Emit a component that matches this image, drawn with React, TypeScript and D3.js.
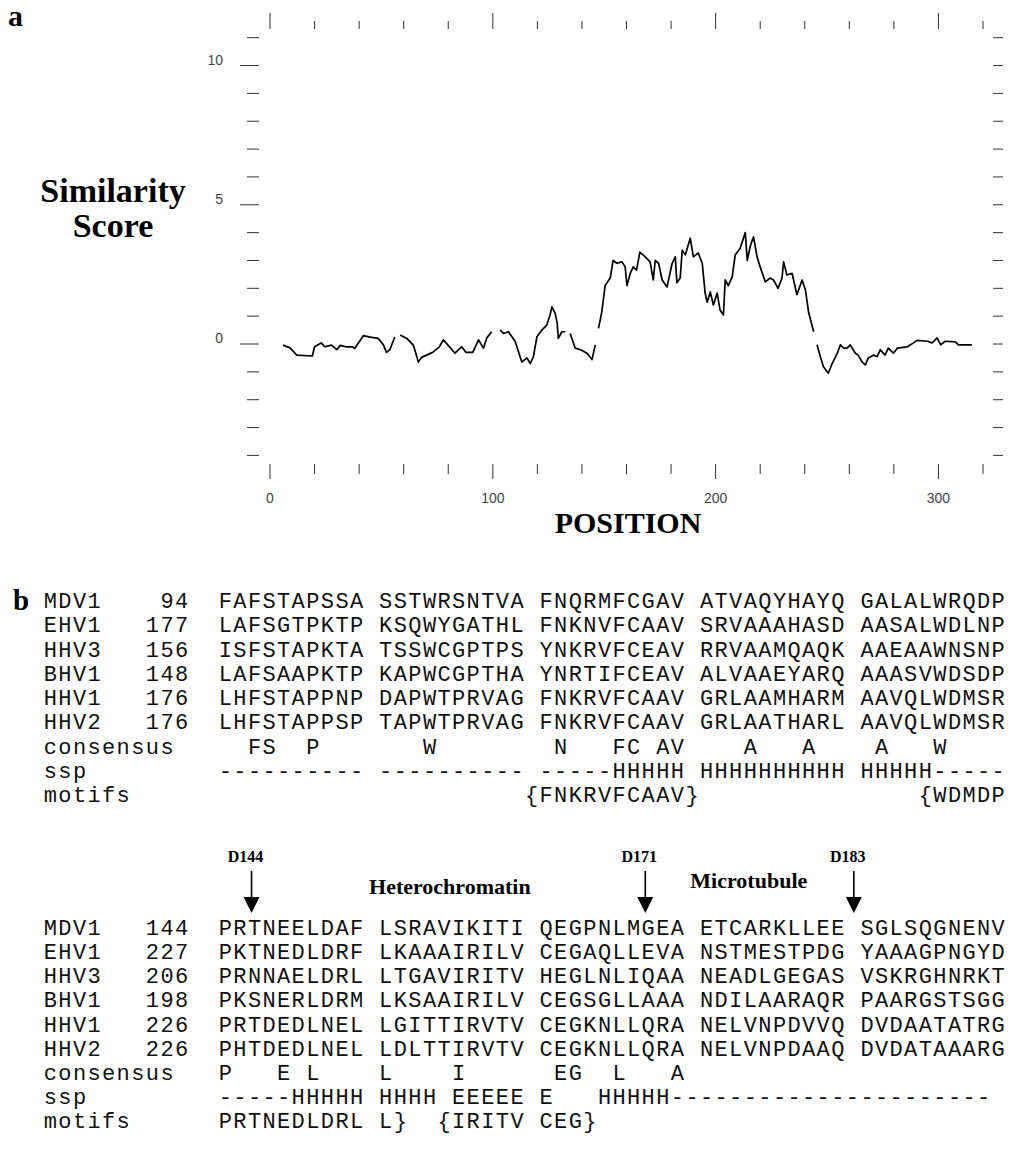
import React from "react";
import * as d3 from "d3";

// similarity trace (null = break in the printed trace)
const positions = [
  5.9, 9, 12, 19, 20, 23, 24.6, 27.6, 30, 31.5, 34, 37, 38, 41.9, 45, 48.6, 50.9, 52.3, 53.8, 56,
  57, 58.4, 61.4, 64.4, 66.6, 68, 73, 76, 77.8, 80, 83, 86, 88, 91, 93.6, 95.8, 97.3, 99.5,
  101, 103.3, 104.8, 107, 108.6, 110, 113, 115.3, 116.8, 118.2, 119.8, 122, 124.2, 125.7, 126.5,
  128, 128.9, 129.4, 131, 132.5, 133.5, 134.7, 137, 139.2, 142.3, 144.5, 146, 146.7, 147.4, 148.2,
  149, 150.4, 152.7, 154, 155.7, 158, 159.4, 160.2, 161.7, 163, 164.5, 166, 168.4, 170.6, 172,
  172.9, 174.4, 176, 178.2, 180.5, 181.9, 182.6, 184.1, 185, 186.4, 188.6, 190, 192.2, 194,
  195.3, 196.2, 197.6, 199, 200.7, 202, 203.5, 204.3, 205.7, 207.4, 208.8, 211, 213.3, 214.2,
  215.5, 217, 218.6, 220, 222.3, 224.5, 226, 228, 229.8, 230.5, 232, 234.3, 236.5, 238.8, 240.3,
  241.7, 244, 244.7, 245.5, 247, 248.4, 250.6, 252.3, 254.6, 256, 257.5, 259, 260.4, 262.7, 264,
  265.8, 267.2, 268.5, 270.8, 272.5, 273.9, 276, 277.5, 279.8, 281.5, 286, 288.8, 290.4, 295,
  297.2, 299.4, 301, 303, 307.6, 309, 315,
];
const scores: (number | null)[] = [
  -0.04, -0.14, -0.4, -0.43, -0.1, 0.04, -0.1, -0.04, -0.2, -0.05, -0.1, -0.1, -0.16, 0.3, 0.25, 0.2, -0.03, -0.3, -0.2, 0.25,
  null, 0.32, 0.2, -0.05, -0.65, -0.48, -0.3, -0.1, 0.15, -0.05, -0.33, -0.1, -0.3, -0.3, 0.15, -0.15, 0.22, 0.44,
  null, 0.5, 0.38, 0.44, 0.26, 0.1, -0.65, -0.5, -0.7, -0.46, 0.26, 0.5, 0.68, 1.04, 1.33,
  1.1, 0.74, 0.2, 0.44, 0.44, null, 0.38, -0.15, -0.2, -0.33, -0.56, -0.03, null, 0.56, 0.86,
  1.2, 2.1, 2.37, 3.0, 2.9, 2.95, 2.77, 2.1, 2.54, 2.77, 2.65, 3.3, 3.13, 2.95, 2.3,
  3.0, 2.9, 2.3, 2.05, 2.9, 3.13, 2.2, 2.37, 3.37, 3.2, 3.8, 3.13, 3.27, 2.9,
  1.83, 1.5, 1.87, 1.4, 1.83, 1.22, 1.04, 2.3, 2.1, 2.4, 3.2, 3.44, 4.0, 3.0,
  3.5, 3.85, 3.13, 2.77, 2.23, 2.37, 2.3, 2.0, 2.37, 2.95, 2.48, 2.54, 1.77, 2.3, 1.94,
  1.15, 0.44, null, -0.03, -0.46, -0.82, -1.05, -0.7, -0.33, -0.03, -0.15, -0.15, -0.03, -0.33, -0.4,
  -0.65, -0.75, -0.5, -0.4, -0.45, -0.2, -0.4, -0.15, -0.33, -0.15, -0.1, 0.04, 0.13, 0.1,
  0.04, 0.22, -0.03, 0.1, 0.08, -0.03, -0.03,
];

const xTickLabels = [0, 100, 200, 300];
const yTickLabels = [0, 5, 10];

// alignment, block 1
const names = ["MDV1", "EHV1", "HHV3", "BHV1", "HHV1", "HHV2"];
const starts1 = [94, 177, 156, 148, 176, 176];
const seqs1 = [
  "FAFSTAPSSA SSTWRSNTVA FNQRMFCGAV ATVAQYHAYQ GALALWRQDP",
  "LAFSGTPKTP KSQWYGATHL FNKNVFCAAV SRVAAAHASD AASALWDLNP",
  "ISFSTAPKTA TSSWCGPTPS YNKRVFCEAV RRVAAMQAQK AAEAAWNSNP",
  "LAFSAAPKTP KAPWCGPTHA YNRTIFCEAV ALVAAEYARQ AAASVWDSDP",
  "LHFSTAPPNP DAPWTPRVAG FNKRVFCAAV GRLAAMHARM AAVQLWDMSR",
  "LHFSTAPPSP TAPWTPRVAG FNKRVFCAAV GRLAATHARL AAVQLWDMSR",
];
const consensus1 = "  FS  P       W        N   FC AV    A   A    A   W";
const ssp1 = "---------- ---------- -----HHHHH HHHHHHHHHH HHHHH-----";
const motifs1 = "                     {FNKRVFCAAV}               {WDMDP";

// alignment, block 2
const starts2 = [144, 227, 206, 198, 226, 226];
const seqs2 = [
  "PRTNEELDAF LSRAVIKITI QEGPNLMGEA ETCARKLLEE SGLSQGNENV",
  "PKTNEDLDRF LKAAAIRILV CEGAQLLEVA NSTMESTPDG YAAAGPNGYD",
  "PRNNAELDRL LTGAVIRITV HEGLNLIQAA NEADLGEGAS VSKRGHNRKT",
  "PKSNERLDRM LKSAAIRILV CEGSGLLAAA NDILAARAQR PAARGSTSGG",
  "PRTDEDLNEL LGITTIRVTV CEGKNLLQRA NELVNPDVVQ DVDAATATRG",
  "PHTDEDLNEL LDLTTIRVTV CEGKNLLQRA NELVNPDAAQ DVDATAAARG",
];
const consensus2 = "P   E L    L    I      EG  L   A";
const ssp2 = "-----HHHHH HHHH EEEEE E   HHHHH----------------------";
const motifs2 = "PRTNEDLDRL L}  {IRITV CEG}";

const markerLabels = ["D144", "D171", "D183"];
const markerColumns = [2.3, 29.3, 43.6];
const regionLabels = ["Heterochromatin", "Microtubule"];
const regionColumns = [15.9, 36.4];

const serif = "'Liberation Serif', 'Times New Roman', serif";
const mono = "'Courier New', 'Liberation Mono', monospace";

const x = d3.scaleLinear().domain([0, 320]).range([270, 983]);
const y = d3.scaleLinear().domain([-4, 11]).range([455.4, 37.7]);
// alignment columns (0 = name column, 12 = first residue)
const col = d3.scaleLinear().domain([0, 12]).range([43, 218]);
const row1 = d3.scaleLinear().domain([0, 8]).range([608, 802]);
const row2 = d3.scaleLinear().domain([0, 8]).range([935, 1128]);

const SEQ0 = 12;

// one glyph per alignment column; blanks are skipped so columns never collapse
function Chars({ text, c0, yy }: { text: string; c0: number; yy: number }) {
  const cells = text.split("").map((ch, i) => ({ ch, i })).filter((d) => d.ch !== " ");
  const xs = cells.map((d) => col(c0 + d.i + 0.5).toFixed(1)).join(" ");
  return (
    <text x={xs} y={yy} textAnchor="middle" fontFamily={mono} fontSize={22} fill="#111">
      {cells.map((d) => d.ch).join("")}
    </text>
  );
}

function Block({ starts, seqs, consensus, ssp, motifs, rowY }: any) {
  const labels = [...names, "consensus", "ssp", "motifs"];
  return (
    <g>
      {labels.map((n, i) => (
        <Chars key={n} text={n} c0={0} yy={rowY(i)} />
      ))}
      {starts.map((s: number, i: number) => {
        const t = String(s);
        return <Chars key={"n" + i} text={t} c0={10 - t.length} yy={rowY(i)} />;
      })}
      {seqs.map((s: string, i: number) => <Chars key={"s" + i} text={s} c0={SEQ0} yy={rowY(i)} />)}
      <Chars text={consensus} c0={SEQ0} yy={rowY(6)} />
      <Chars text={ssp} c0={SEQ0} yy={rowY(7)} />
      <Chars text={motifs} c0={SEQ0} yy={rowY(8)} />
    </g>
  );
}

export default function App() {
  const pts = positions.map((p, i) => ({ p, s: scores[i] }));
  const trace = d3
    .line<{ p: number; s: number | null }>()
    .defined((d) => d.s !== null)
    .x((d) => x(d.p))
    .y((d) => y(d.s as number));
  const xTicks = x.ticks(16);
  const yTicks = d3.range(-4, 12);
  const tick = "#333";

  return (
    <div style={{ position: "absolute", left: 0, top: 0 }}>
      <svg width={1015} height={1157} style={{ display: "block", background: "#fff" }}>
        {/* panel a */}
        <text x={8} y={26} fontFamily={serif} fontWeight="bold" fontSize={30}>a</text>
        <g fontFamily={serif} fontWeight="bold" fontSize={34} textAnchor="middle">
          <text x={113} y={202}>Similarity</text>
          <text x={113} y={237}>Score</text>
        </g>

        {xTicks.map((t) => {
          const major = t % 100 === 0;
          return (
            <g key={"xt" + t} stroke={tick} strokeWidth={1}>
              <line x1={x(t)} x2={x(t)} y1={major ? 13 : 21} y2={29} />
              <line x1={x(t)} x2={x(t)} y1={464} y2={major ? 479 : 474} />
            </g>
          );
        })}
        {yTicks.map((t) => {
          const major = t % 5 === 0;
          return (
            <g key={"yt" + t} stroke={tick} strokeWidth={1}>
              <line x1={major ? 240 : 247} x2={259} y1={y(t)} y2={y(t)} />
              <line x1={993} x2={1003} y1={y(t)} y2={y(t)} />
            </g>
          );
        })}
        <g fontFamily="'Liberation Sans', Arial, sans-serif" fontSize={14} fill="#444">
          {yTickLabels.map((t) => (
            <text key={"yl" + t} x={223} y={y(t) - 1} textAnchor="end">{t}</text>
          ))}
          {xTickLabels.map((t) => (
            <text key={"xl" + t} x={x(t)} y={503} textAnchor="middle">{t}</text>
          ))}
        </g>
        <text x={628} y={533} textAnchor="middle" fontFamily={serif} fontWeight="bold" fontSize={30}>
          POSITION
        </text>

        <path d={trace(pts) || ""} fill="none" stroke="#000" strokeWidth={1.7} strokeLinejoin="round" />

        {/* panel b */}
        <text x={13} y={610} fontFamily={serif} fontWeight="bold" fontSize={29}>b</text>
        <Block starts={starts1} seqs={seqs1} consensus={consensus1} ssp={ssp1} motifs={motifs1} rowY={row1} />

        {markerLabels.map((m, i) => {
          const cx = col(SEQ0 + markerColumns[i]);
          return (
            <g key={m}>
              <text x={cx - 6} y={862} textAnchor="middle" fontFamily={serif} fontWeight="bold" fontSize={16}>{m}</text>
              <line x1={cx} x2={cx} y1={871} y2={898} stroke="#000" strokeWidth={1.6} />
              <path d={`M${cx - 8},897 L${cx + 8},897 L${cx},913 Z`} fill="#000" />
            </g>
          );
        })}
        {regionLabels.map((r, i) => (
          <text key={r} x={col(SEQ0 + regionColumns[i])} y={i === 0 ? 894 : 888} textAnchor="middle"
            fontFamily={serif} fontWeight="bold" fontSize={22}>{r}</text>
        ))}
        <Block starts={starts2} seqs={seqs2} consensus={consensus2} ssp={ssp2} motifs={motifs2} rowY={row2} />
      </svg>
    </div>
  );
}
